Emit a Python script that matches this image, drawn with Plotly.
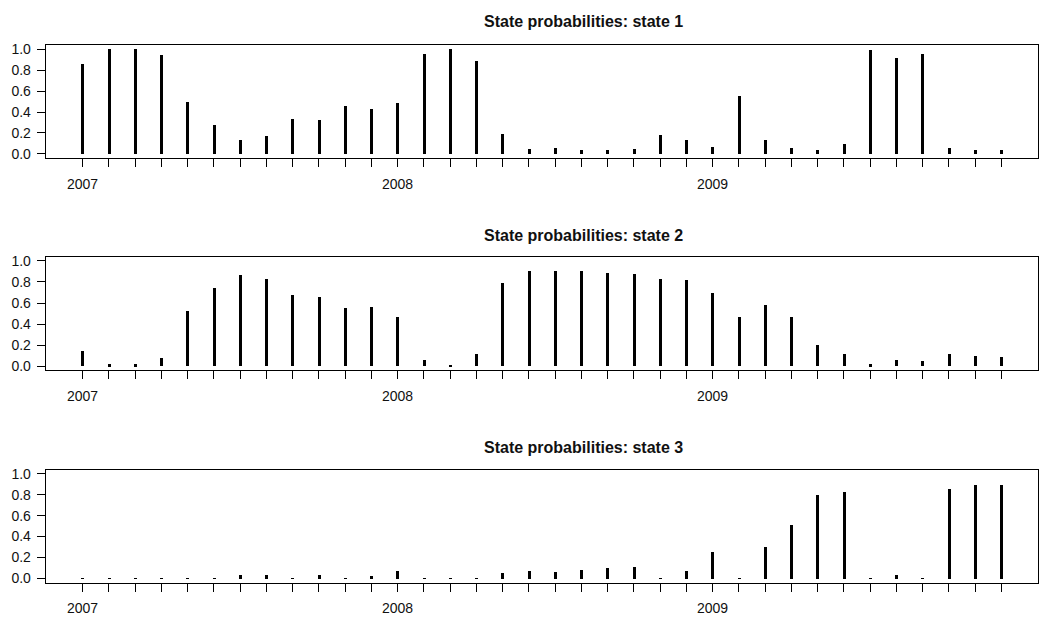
import plotly.graph_objects as go

# Monthly time index, Jan 2007 .. Dec 2009 (equal spacing, as a ts would be)
months = [2007 + i / 12 for i in range(36)]
year_ticks = ["2007", "2008", "2009"]

# Smoothed state probabilities per month
state1 = [0.857, 1.000, 1.000, 0.941, 0.491, 0.273, 0.127, 0.165, 0.332, 0.320,
          0.457, 0.432, 0.481, 0.953, 1.000, 0.891, 0.189, 0.043, 0.056, 0.031,
          0.031, 0.043, 0.174, 0.127, 0.068, 0.556, 0.127, 0.056, 0.031, 0.090,
          0.991, 0.919, 0.953, 0.056, 0.031, 0.031]
state2 = [0.149, 0.019, 0.019, 0.078, 0.525, 0.745, 0.866, 0.832, 0.683, 0.658,
          0.553, 0.565, 0.466, 0.065, 0.006, 0.115, 0.795, 0.904, 0.904, 0.904,
          0.891, 0.879, 0.832, 0.820, 0.696, 0.466, 0.587, 0.466, 0.199, 0.115,
          0.019, 0.065, 0.053, 0.115, 0.102, 0.090]
state3 = [0.003, 0.003, 0.003, 0.003, 0.003, 0.003, 0.037, 0.037, 0.003, 0.037,
          0.003, 0.025, 0.075, 0.003, 0.003, 0.003, 0.050, 0.075, 0.062, 0.087,
          0.099, 0.112, 0.003, 0.075, 0.258, 0.003, 0.307, 0.512, 0.804, 0.829,
          0.003, 0.037, 0.003, 0.854, 0.901, 0.901]

series = [state1, state2, state3]
titles = ["State probabilities: state 1",
          "State probabilities: state 2",
          "State probabilities: state 3"]

W, H = 1049, 630
left_px, right_px = 45.7, 1038.0
panels_px = [(41.7, 156.0), (256.0, 371.0), (471.7, 586.0)]
title_y_px = [17.5, 234.5, 449.5]
title_x_px = 583.0

font_family = "Liberation Sans, Arial, sans-serif"

fig = go.Figure()
tickvals = months
ticktext = [year_ticks[i // 12] if i % 12 == 0 else "" for i in range(36)]

for k, vals in enumerate(series):
    sfx = "" if k == 0 else str(k + 1)
    fig.add_trace(go.Bar(
        x=months, y=vals, width=0.0095,
        marker=dict(color="black", line=dict(width=0)),
        xaxis="x" + sfx, yaxis="y" + sfx, showlegend=False,
        hoverinfo="x+y",
    ))
    top, bot = panels_px[k]
    common = dict(showline=True, mirror=True, linecolor="black", linewidth=1,
                  ticks="outside", ticklen=8, tickwidth=1, tickcolor="black",
                  showgrid=False, zeroline=False,
                  tickfont=dict(family=font_family, size=14, color="#111"))
    fig.update_layout(**{
        "xaxis" + sfx: dict(
            domain=[left_px / W, right_px / W],
            range=[2006.883, 2010.033],
            tickmode="array", tickvals=tickvals, ticktext=ticktext,
            anchor="y" + sfx, ticklabelstandoff=5, **common),
        "yaxis" + sfx: dict(
            domain=[1 - bot / H, 1 - top / H],
            range=[-0.04, 1.04],
            tickmode="array", tickvals=[0, 0.2, 0.4, 0.6, 0.8, 1.0],
            tickformat=".1f", anchor="x" + sfx, ticklabelstandoff=3, **common),
    })
    fig.add_annotation(
        text="<b>" + titles[k] + "</b>", xref="paper", yref="paper",
        x=title_x_px / W, y=1 - title_y_px[k] / H,
        xanchor="center", yanchor="middle", showarrow=False,
        font=dict(family=font_family, size=16, color="#111"))

fig.update_layout(
    width=W, height=H, margin=dict(l=0, r=0, t=0, b=0),
    paper_bgcolor="white", plot_bgcolor="white", bargap=0,
    font=dict(family=font_family, color="#111"),
)

fig.write_html("out.html")
